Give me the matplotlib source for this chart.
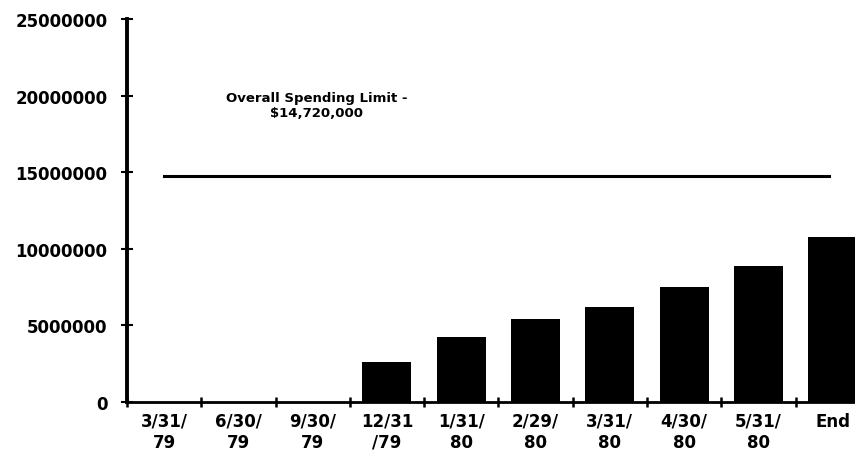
import matplotlib.pyplot as plt
import numpy as np

periods = ['3/31/\n79', '6/30/\n79', '9/30/\n79', '12/31\n/79', '1/31/\n80',
           '2/29/\n80', '3/31/\n80', '4/30/\n80', '5/31/\n80', 'End']
spending = [0, 0, 0, 2590000, 4220000, 5440000, 6180000, 7530000, 8880000, 10750000]
limit = 14720000

fig = plt.figure(figsize=(8.55, 4.64), dpi=100)
ax = fig.add_axes([0.1485, 0.1315, 0.8515, 0.8255])

x = np.arange(len(periods))
ax.bar(x, spending, width=0.66, color='black')
ax.plot([x[0], x[-1] - 0.05], [limit, limit], color='black', lw=2.2)

ax.text(2.05, 19400000, 'Overall Spending Limit -\n$14,720,000', ha='center', va='center',
        fontsize=9.5, fontweight='heavy', linespacing=1.2)

ax.set_xlim(-0.5, 9.3)
ax.set_ylim(0, 25000000)
ax.set_yticks(np.arange(0, 25000001, 5000000))
ax.set_yticklabels([str(v) for v in range(0, 25000001, 5000000)], fontsize=12, fontweight='heavy')

# boundary ticks between categories, labels at centres
ax.set_xticks(np.arange(-0.5, 9, 1))
ax.set_xticklabels([])
ax.set_xticks(x, minor=True)
ax.set_xticklabels(periods, minor=True, fontsize=12, fontweight='heavy', linespacing=1.22)
ax.tick_params(axis='x', which='minor', length=0, pad=7)
ax.tick_params(axis='x', which='major', direction='inout', length=7, width=1.8)
ax.tick_params(axis='y', direction='inout', length=8, width=1.5, pad=10)

for s in ['top', 'right']:
    ax.spines[s].set_visible(False)
ax.spines['left'].set_linewidth(2.8)
ax.spines['bottom'].set_linewidth(2)

fig.savefig('out.png', dpi=100)
